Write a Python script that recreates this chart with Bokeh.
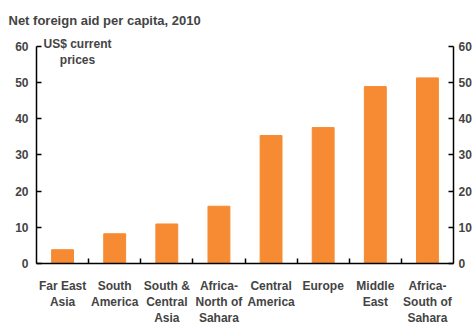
from bokeh.plotting import figure
from bokeh.models import LinearAxis, FixedTicker, Range1d, Label, ColumnDataSource
from bokeh.embed import file_html
from bokeh.resources import INLINE

regions = ["Far East\nAsia", "South\nAmerica", "South &\nCentral\nAsia", "Africa-\nNorth of\nSahara",
           "Central\nAmerica", "Europe", "Middle\nEast", "Africa-\nSouth of\nSahara"]
aid = [3.8, 8.2, 10.9, 15.8, 35.3, 37.5, 48.8, 51.2]
y_ticks = [0, 10, 20, 30, 40, 50, 60]

FONT = "Liberation Sans"
xpos = [i + 0.5 for i in range(len(regions))]
src = ColumnDataSource(dict(x=xpos, top=aid))

p = figure(frame_width=417, frame_height=232, output_backend="svg", toolbar_location=None,
           x_range=Range1d(0, len(regions)), y_range=Range1d(0, 64),
           min_border_left=36, min_border_right=0, min_border_top=31, min_border_bottom=62,
           y_axis_location=None)
p.title.text = "Net foreign aid per capita, 2010"
p.title.text_font = FONT
p.title.text_font_size = "13px"
p.title.text_font_style = "bold"
p.title.offset = -28
p.title.standoff = 8
p.outline_line_color = None
p.grid.visible = False

p.vbar(x="x", top="top", width=0.42, source=src, color="#F68B33")

# x axis
xa = p.xaxis[0]
xa.ticker = FixedTicker(ticks=xpos, minor_ticks=list(range(1, len(regions))))
xa.major_label_overrides = {x: r for x, r in zip(xpos, regions)}
xa.major_tick_line_color = None
xa.minor_tick_in = 5
xa.minor_tick_out = 0
xa.minor_tick_line_width = 1.5
xa.axis_line_width = 1.5
xa.major_label_text_font = FONT
xa.major_label_text_font_style = "bold"
xa.major_label_text_font_size = "12px"
xa.major_label_standoff = 9
xa.major_label_text_line_height = 1.15

for side in ("left", "right"):
    ax = LinearAxis(ticker=FixedTicker(ticks=y_ticks), bounds=(0, 60))
    ax.major_tick_in = 5
    ax.major_tick_out = 0
    ax.minor_tick_line_color = None
    ax.axis_line_width = 1.5
    ax.major_tick_line_width = 1.5
    ax.major_label_text_font = FONT
    ax.major_label_text_font_style = "bold"
    ax.major_label_text_font_size = "12px"
    ax.major_label_standoff = 8 if side == "left" else 5
    p.add_layout(ax, side)

lab = Label(x=0, y=60, text="US$ current\nprices", x_units="data", y_units="data",
            text_font=FONT, text_font_style="bold", text_font_size="12px",
            text_align="center", text_baseline="middle", y_offset=-6, x_offset=41,
            text_line_height=1.2, level="overlay")
p.add_layout(lab)

open("out.html", "w").write(file_html(p, INLINE))
